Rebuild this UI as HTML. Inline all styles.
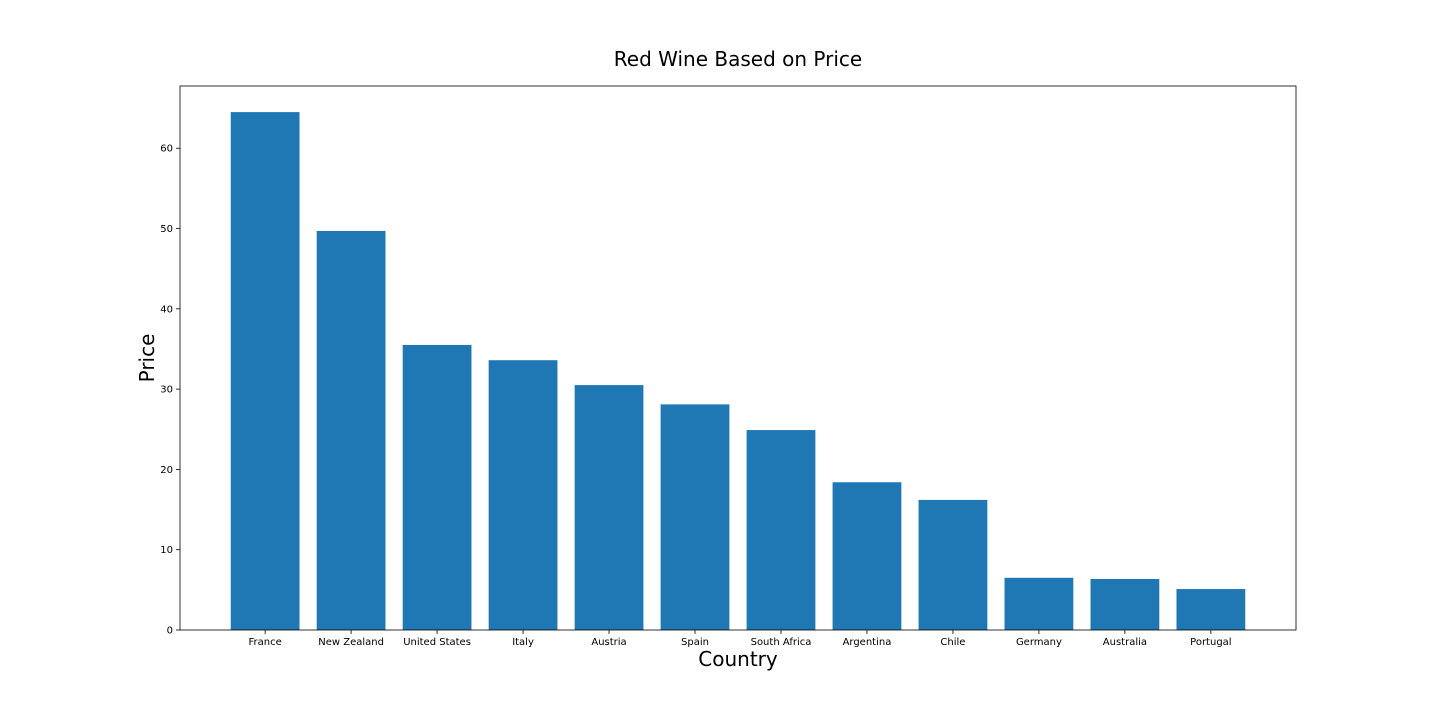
<!DOCTYPE html>
<html><head><meta charset="utf-8"><style>
body{margin:0;background:#fff;font-family:"DejaVu Sans","Liberation Sans",sans-serif;}
svg{display:block;font-family:"DejaVu Sans","Liberation Sans",sans-serif;}
</style></head><body>
<svg id="chart" width="1440" height="720">
<rect width="1440" height="720" fill="#fff"/>
<text x="738" y="66" text-anchor="middle" font-size="20">Red Wine Based on Price</text>
<text x="738" y="666" text-anchor="middle" font-size="20">Country</text>
<text transform="translate(154,358) rotate(-90)" text-anchor="middle" font-size="20">Price</text>
<g id="bars"></g><g id="ticks"></g>
<rect x="180" y="86" width="1116" height="544" fill="none" stroke="#000" stroke-width="0.8"/>
</svg>
<script>
const categories=["France","New Zealand","United States","Italy","Austria","Spain","South Africa","Argentina","Chile","Germany","Australia","Portugal"];
const prices=[64.5,49.7,35.5,33.6,30.5,28.1,24.9,18.4,16.2,6.5,6.35,5.1];
const yTicks=[0,10,20,30,40,50,60];
const L=180,R=1296,T=86,B=630,xmin=-0.99,xmax=11.99,ymax=67.75;
const sx=v=>L+(v-xmin)/(xmax-xmin)*(R-L);
const sy=v=>B-v/ymax*(B-T);
const NS="http://www.w3.org/2000/svg";
const bars=document.getElementById('bars'),ticks=document.getElementById('ticks');
function mk(tag,attrs,parent){const e=document.createElementNS(NS,tag);for(const k in attrs)e.setAttribute(k,attrs[k]);parent.appendChild(e);return e;}
categories.forEach((c,i)=>{
 const x0=sx(i-0.4),x1=sx(i+0.4);
 const r=mk('rect',{x:x0,y:sy(prices[i]),width:x1-x0,height:B-sy(prices[i]),fill:'#1f77b4'},bars);
 
 
 mk('line',{x1:sx(i),x2:sx(i),y1:B,y2:B+4,stroke:'#000','stroke-width':0.8},ticks);
 const t=mk('text',{x:sx(i),y:B+15,'text-anchor':'middle','font-size':'10'},ticks);
 t.textContent=c;
 
 
});
yTicks.forEach(v=>{
 mk('line',{x1:L-4,x2:L,y1:sy(v),y2:sy(v),stroke:'#000','stroke-width':0.8},ticks);
 const t=mk('text',{x:L-7,y:sy(v)+3.5,'text-anchor':'end','font-size':'10'},ticks);
 t.textContent=v;
 
 
});
</script>
</body></html>
